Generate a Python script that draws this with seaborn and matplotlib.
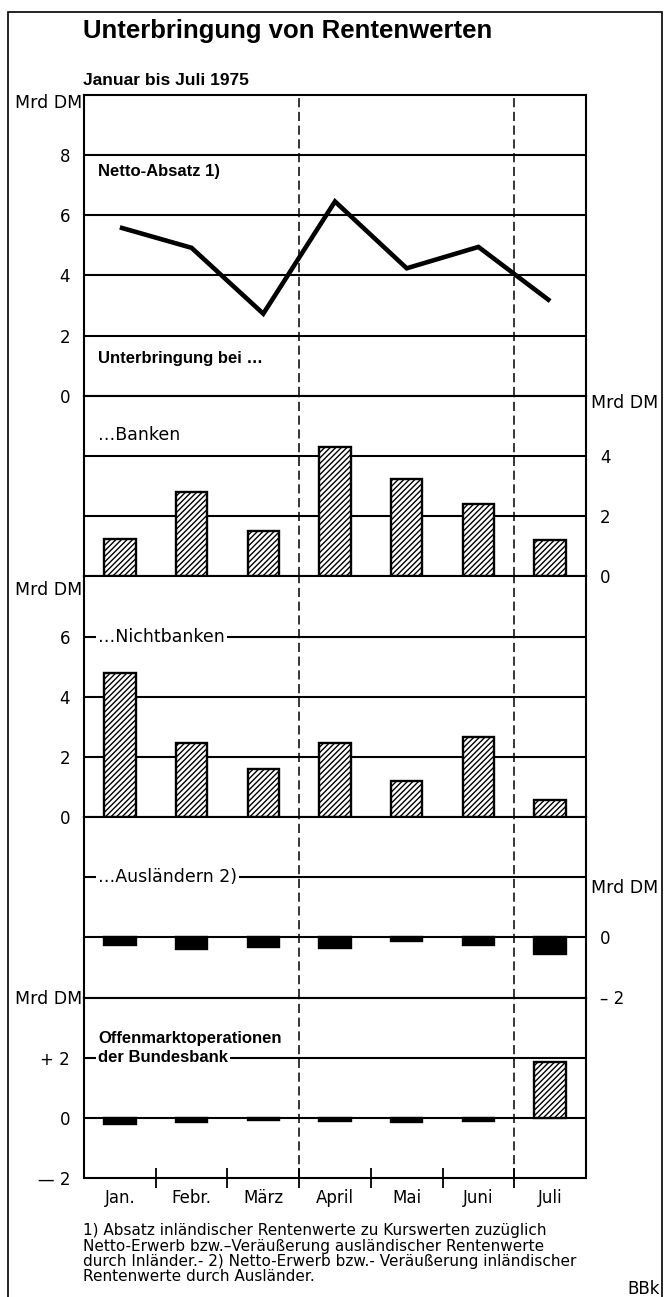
import numpy as np
import pandas as pd
import matplotlib
matplotlib.use("Agg")
import matplotlib.pyplot as plt
import matplotlib.transforms as mtransforms
from matplotlib.patches import Rectangle
import seaborn as sns

# ---------------- data ----------------
months = ["Jan.", "Febr.", "März", "April", "Mai", "Juni", "Juli"]
netto_absatz = [5.6, 4.92, 2.73, 6.46, 4.24, 4.95, 3.15]
banken = [1.24, 2.8, 1.5, 4.3, 3.22, 2.4, 1.2]
nichtbanken = [4.78, 2.47, 1.58, 2.47, 1.2, 2.67, 0.58]
auslaender = [-0.24, -0.4, -0.33, -0.36, -0.13, -0.25, -0.55]
offenmarkt = [-0.19, -0.13, -0.08, -0.1, -0.14, -0.1, 1.87]

title = "Unterbringung von Rentenwerten"
subtitle = "Januar bis Juli 1975"
unit = "Mrd DM"
footnote_lines = [
    "1) Absatz inländischer Rentenwerte zu Kurswerten zuzüglich",
    "Netto-Erwerb bzw.–Veräußerung ausländischer Rentenwerte",
    "durch Inländer.- 2) Netto-Erwerb bzw.- Veräußerung inländischer",
    "Rentenwerte durch Ausländer.",
]
source = "BBk"

# ---------------- setup ----------------
W, H, DPI = 665, 1297, 100
sns.set_theme(style="white")
plt.rcParams["font.family"] = ["DejaVu Sans"]
plt.rcParams["hatch.linewidth"] = 1.0
plt.rcParams["hatch.color"] = "black"
for key in ("text.color", "axes.labelcolor", "xtick.color", "ytick.color", "axes.edgecolor"):
    plt.rcParams[key] = "black"

fig = plt.figure(figsize=(W / DPI, H / DPI), dpi=DPI)


def fx(px):
    return px / W


def fy(py):
    return 1 - py / H


gs = fig.add_gridspec(5, 1, left=fx(84), right=fx(586), top=fy(95), bottom=fy(1178),
                      hspace=0, height_ratios=[10, 6, 8, 6, 6])
axes = [fig.add_subplot(gs[i]) for i in range(5)]

ylims = [(0, 10), (0, 6), (0, 8), (-2, 4), (-2, 4)]
grid_levels = [[2, 4, 6, 8], [2, 4], [2, 4, 6], [0, 2], [0, 2]]
tick_side = ["left", "right", "left", "right", "left"]
tick_vals = [[0, 2, 4, 6, 8], [0, 2, 4], [0, 2, 4, 6], [-2, 0], [-2, 0, 2]]
tick_labels = [["0", "2", "4", "6", "8"], ["0", "2", "4"], ["0", "2", "4", "6"],
               ["– 2", "0"], ["— 2", "0", "+ 2"]]

# ---------------- marks ----------------
sns.lineplot(x=months, y=netto_absatz, ax=axes[0], color="black", lw=3.3, sort=False,
             zorder=3, solid_joinstyle="miter", solid_capstyle="butt")

bar_kw = dict(color="white", edgecolor="black", linewidth=1.7, hatch="//////",
              width=0.44, saturation=1, zorder=3)
sns.barplot(x=months, y=banken, ax=axes[1], **bar_kw)
sns.barplot(x=months, y=nichtbanken, ax=axes[2], **bar_kw)
sns.barplot(x=months, y=auslaender, ax=axes[3], **bar_kw)
sns.barplot(x=months, y=offenmarkt, ax=axes[4], **bar_kw)
for ax in axes[3:]:
    for p in ax.patches:
        if p.get_height() < 0:
            p.set_facecolor("black")

# ---------------- styling ----------------
for i, ax in enumerate(axes):
    ax.set_xlim(-0.5, 6.5)
    ax.set_ylim(*ylims[i])
    ax.set_xlabel("")
    ax.set_ylabel("")
    for lv in grid_levels[i]:
        ax.axhline(lv, color="black", lw=1.5, zorder=1)
    for xb in (2.5, 5.5):
        ax.axvline(xb, color="black", lw=1.1, ls=(0, (6, 3)), zorder=2)
    for s in ax.spines.values():
        s.set_color("black")
        s.set_linewidth(1.5)
        s.set_visible(True)
    ax.set_yticks(tick_vals[i])
    ax.set_yticklabels(tick_labels[i], fontsize=12)
    if tick_side[i] == "right":
        ax.yaxis.tick_right()
    else:
        ax.yaxis.tick_left()
    ax.tick_params(axis="y", length=0, pad=10)
    if i < 4:
        ax.set_xticks([])
    ax.set_facecolor("white")

# bottom month axis
axb = axes[4]
axb.set_xticks(range(len(months)))
axb.set_xticklabels(months, fontsize=12)
axb.tick_params(axis="x", which="major", length=0, pad=8, bottom=True)
axb.set_xticks(np.arange(0.5, 6, 1.0), minor=True)
axb.tick_params(axis="x", which="minor", direction="inout", length=14, width=1.3,
                bottom=True, color="black")


def blend(ax):
    return mtransforms.blended_transform_factory(ax.transAxes, ax.transData)


lx = (98 - 84) / 502
bold_kw = dict(fontsize=12, weight="bold", family="Liberation Sans", va="center", ha="left")
axes[0].text(lx, 7.45, "Netto-Absatz 1)", transform=blend(axes[0]), **bold_kw)
axes[0].text(lx, 1.23, "Unterbringung bei …", transform=blend(axes[0]), **bold_kw)
axes[1].text(lx, 4.7, "…Banken", transform=blend(axes[1]), fontsize=12.5,
             va="center", ha="left")
wb = dict(facecolor="white", edgecolor="none", pad=1.5)
axes[2].text(lx, 6, "…Nichtbanken", transform=blend(axes[2]), fontsize=12.5,
             va="center", ha="left", bbox=wb, zorder=4)
axes[3].text(lx, 2, "…Ausländern 2)", transform=blend(axes[3]), fontsize=12.5,
             va="center", ha="left", bbox=wb, zorder=4)
axes[4].text(lx, 2.65, "Offenmarktoperationen", transform=blend(axes[4]), **bold_kw)
axes[4].text(lx, 2, "der Bundesbank", transform=blend(axes[4]), bbox=wb, zorder=4, **bold_kw)

# unit labels
for py in (103, 590, 999):
    fig.text(fx(82), fy(py), unit, fontsize=12.5, ha="right", va="center")
for py in (403, 888):
    fig.text(fx(591), fy(py), unit, fontsize=12.5, ha="left", va="center")

# titles
fig.text(fx(83), fy(38), title, fontsize=18.5, weight="bold", family="Liberation Sans",
         ha="left", va="baseline")
fig.text(fx(83), fy(85), subtitle, fontsize=12.5, weight="bold", family="Liberation Sans",
         ha="left", va="baseline")

# footnotes
for k, line in enumerate(footnote_lines):
    fig.text(fx(83), fy(1231 + 15.3 * k), line, fontsize=11, ha="left", va="center")
fig.text(fx(660), fy(1289), source, fontsize=12, ha="right", va="center")

# outer frame
fig.add_artist(Rectangle((fx(8), fy(1310)), fx(662) - fx(8), fy(12) - fy(1310),
                         transform=fig.transFigure, fill=False, lw=1.2,
                         edgecolor="black", clip_on=False))

fig.savefig("out.png", dpi=DPI, facecolor="white")
